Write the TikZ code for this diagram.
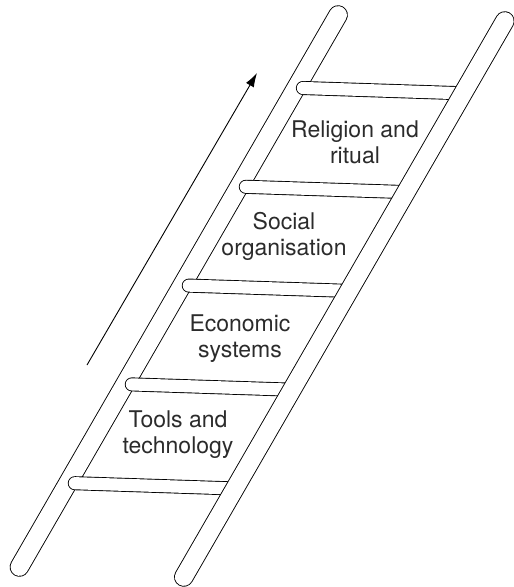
\documentclass[tikz,border=0pt]{standalone}
\usepackage{fontspec}
\setmainfont{TeX Gyre Heros}
\usetikzlibrary{arrows.meta}
\definecolor{LabelGrey}{HTML}{2B2B2B}

\begin{document}
\begin{tikzpicture}[x=1pt, y=-1pt,
    rail/.style={line width=0.9pt, double distance=17.7pt, line cap=round},
    rung/.style={line width=0.9pt, double distance=12.2pt, line cap=round},
    stage/.style={align=center, inner sep=0pt, text=LabelGrey,
                  font=\fontsize{23}{26}\selectfont}]
  \useasboundingbox (0,0) rectangle (514,587);

  % ladder ends
  \coordinate (lefttop) at (338.1,15);
  \coordinate (leftbot) at (19.4,567);
  \coordinate (righttop) at (504.8,21);
  \coordinate (rightbot) at (183.8,577);

  % rungs, left cap to right rail
  \coordinate (rungAl) at (302.9,88.0);   \coordinate (rungAr) at (463.1,93.3);
  \coordinate (rungBl) at (245.8,186.8);  \coordinate (rungBr) at (406.0,192.1);
  \coordinate (rungCl) at (188.8,285.6);  \coordinate (rungCr) at (349.0,290.9);
  \coordinate (rungDl) at (131.8,384.4);  \coordinate (rungDr) at (291.9,389.7);
  \coordinate (rungEl) at (74.8,483.2);   \coordinate (rungEr) at (234.9,488.5);

  \draw[rail] (lefttop) -- (leftbot);
  \draw[rung] (rungAl) -- (rungAr);
  \draw[rung] (rungBl) -- (rungBr);
  \draw[rung] (rungCl) -- (rungCr);
  \draw[rung] (rungDl) -- (rungDr);
  \draw[rung] (rungEl) -- (rungEr);
  \draw[rail] (righttop) -- (rightbot);

  % direction of progress
  \coordinate (arrowtail) at (87,365);
  \coordinate (arrowtip) at (257,73);
  \draw[line width=0.9pt, -{Latex[length=14pt,width=9pt]}] (arrowtail) -- (arrowtip);

  \node[stage] (religion) at (355,142) {Religion and\\ritual};
  \node[stage] (social) at (284,236.8) {Social\\organisation};
  \node[stage] (economic) at (240,338.5) {Economic\\systems};
  \node[stage] (tools) at (178,435) {Tools and\\technology};
\end{tikzpicture}
\end{document}
